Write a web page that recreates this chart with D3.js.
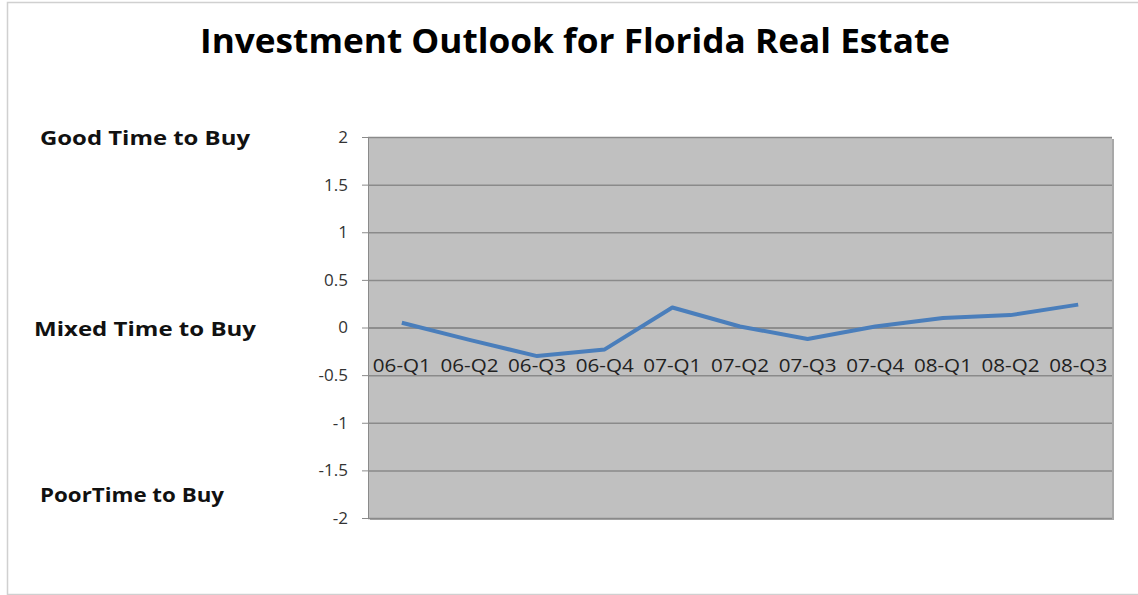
<!DOCTYPE html>
<html>
<head>
<script src="https://cdn.jsdelivr.net/npm/d3@7"></script>
<style>
  body { margin: 0; background: #fff; }
  text { font-family: "Open Sans", "DejaVu Sans", sans-serif; }
</style>
</head>
<body>
<div id="chart"></div>
<script>
// quarters on the x axis
var quarters = ["06-Q1","06-Q2","06-Q3","06-Q4","07-Q1","07-Q2","07-Q3","07-Q4","08-Q1","08-Q2","08-Q3"];
// outlook index
var outlook = [0.05, -0.13, -0.30, -0.23, 0.21, 0.01, -0.12, 0.01, 0.10, 0.13, 0.24];
var yTicks = [2, 1.5, 1, 0.5, 0, -0.5, -1, -1.5, -2];
var sideLabels = [{text: "Good Time to Buy", v: 2}, {text: "Mixed Time to Buy", v: 0}, {text: "PoorTime to Buy", v: -1.75}];

var W = 1138, H = 595;
var margin = {top: 137, right: 26, bottom: 77, left: 368};
var width = W - margin.left - margin.right,
    height = H - margin.top - margin.bottom;

var svg = d3.select("#chart").append("svg")
    .attr("width", W).attr("height", H);

// outer chart border
svg.append("rect")
    .attr("x", 7.5).attr("y", 2.5)
    .attr("width", W + 10).attr("height", H - 3)
    .attr("fill", "none").attr("stroke", "#d0d0d0").attr("stroke-width", 1.5);

svg.append("text")
    .attr("x", 575).attr("y", 53)
    .attr("text-anchor", "middle")
    .attr("font-size", 34).attr("font-weight", "bold")
    .attr("textLength", 750).attr("lengthAdjust", "spacingAndGlyphs")
    .attr("fill", "#000")
    .text("Investment Outlook for Florida Real Estate");

var g = svg.append("g")
    .attr("transform", "translate(" + margin.left + "," + margin.top + ")");

var x = d3.scaleBand().domain(quarters).range([0, width]);
var y = d3.scaleLinear().domain([-2, 2]).range([height, 0]);

// shadow + plot area
g.append("rect")
    .attr("x", 2).attr("y", 2).attr("width", width).attr("height", height)
    .attr("fill", "#a8a8a8");
g.append("rect")
    .attr("width", width).attr("height", height)
    .attr("fill", "#c0c0c0");

// y axis with gridlines
var yAxis = g.append("g")
    .call(d3.axisLeft(y).tickValues(yTicks).tickSize(-width).tickPadding(20)
      .tickFormat(function(d){ return d; }));
yAxis.select(".domain").remove();
yAxis.selectAll(".tick line").attr("stroke", "#8a8a8a").attr("stroke-width", 1.5);
yAxis.selectAll(".tick text")
    .attr("font-size", 17).attr("fill", "#333")
    .attr("font-family", "'Liberation Sans', sans-serif");
// short outside ticks
g.append("g")
    .call(d3.axisLeft(y).tickValues(yTicks).tickSize(6).tickFormat(""))
    .call(function(a){ a.select(".domain").attr("stroke", "#8a8a8a"); a.selectAll("line").attr("stroke", "#8a8a8a"); });

// category axis sits on zero
var xAxis = g.append("g")
    .attr("transform", "translate(0," + y(0) + ")")
    .call(d3.axisBottom(x).tickSize(0).tickPadding(32));
xAxis.select(".domain").attr("stroke", "#8a8a8a").attr("stroke-width", 1.5);
xAxis.selectAll(".tick text")
    .attr("font-size", 18).attr("fill", "#222")
    .attr("font-family", "'Liberation Sans', sans-serif")
    .attr("textLength", 58).attr("lengthAdjust", "spacingAndGlyphs");

// line
var line = d3.line()
    .x(function(d, i){ return x(quarters[i]) + x.bandwidth() / 2; })
    .y(function(d){ return y(d); });
g.append("path")
    .datum(outlook)
    .attr("d", line)
    .attr("fill", "none")
    .attr("stroke", "#4a7ebb")
    .attr("stroke-width", 4)
    .attr("stroke-linejoin", "round");

// side labels
svg.selectAll(".side").data(sideLabels).enter().append("text")
    .attr("class", "side")
    .attr("x", function(d, i){ return i === 1 ? 34 : 40; })
    .attr("y", function(d){ return margin.top + y(d.v) + 8; })
    .attr("font-size", 20).attr("font-weight", "bold")
    .attr("fill", "#111")
    .attr("textLength", function(d, i){ return [210, 222, 184][i]; })
    .attr("lengthAdjust", "spacingAndGlyphs")
    .text(function(d){ return d.text; });
</script>
</body>
</html>
